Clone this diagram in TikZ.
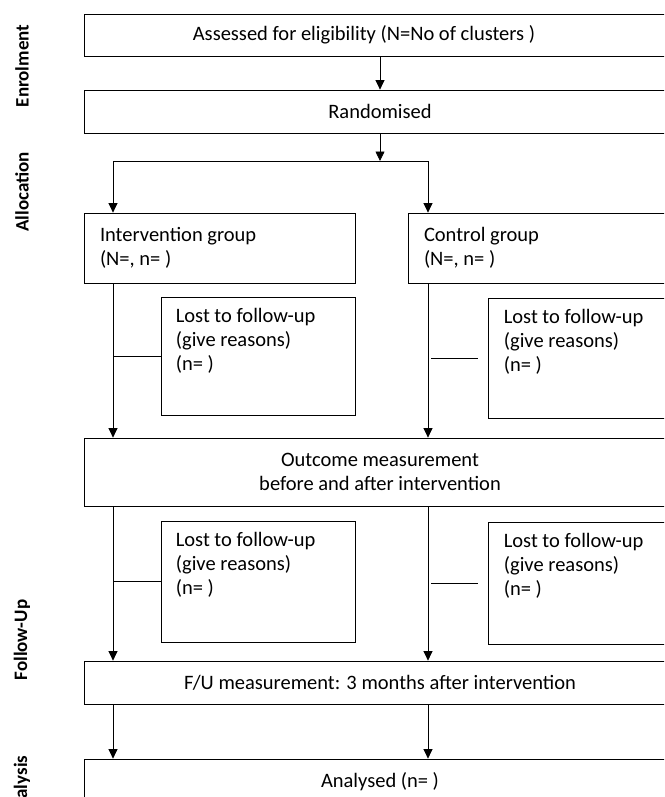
\documentclass[tikz,border=0pt]{standalone}
\usepackage{fontspec}
\setmainfont{Carlito}
\usetikzlibrary{arrows.meta}

\begin{document}
\begin{tikzpicture}[x=1pt,y=-1pt,
	box/.style={draw, line width=0.8pt, inner sep=0pt, font=\fontsize{20.5}{24}\selectfont},
	widebox/.style={box, minimum width=592pt, align=center},
	groupbox/.style={box, minimum width=271pt, minimum height=70pt, text width=239pt, align=flush left},
	lostbox/.style={box, minimum width=194pt},
	losttext/.style={anchor=north west, inner sep=0pt, align=flush left, font=\fontsize{20.5}{24}\selectfont},
	arr/.style={-{Triangle[width=9pt,length=9.5pt]}, line width=0.8pt},
	phase/.style={rotate=90, font=\bfseries\fontsize{19}{22}\selectfont}]
		\useasboundingbox (0,0) rectangle (664,797);
		\clip (0,0) rectangle (664,797);
		\node[phase] (enrol) at (22,66) {Enrolment};
		\node[phase] (alloc) at (22,192) {Allocation};
		\node[phase] (follow) at (22,640) {Follow-Up};
		\node[phase] (analysis) at (22,788) {Analysis};
		\node[widebox, minimum height=42pt] (assess) at (380,35) {Assessed for eligibility (N=No of clusters )\hspace*{32pt}};
		\node[widebox, minimum height=43pt] (rand) at (380,111.5) {Randomised};
		\node[groupbox] (interv) at (219.5,248) {Intervention group\\(N=, n= )};
		\node[groupbox] (ctrl) at (543.5,248) {Control group\\(N=, n= )};
		\node[lostbox, minimum height=118pt] (lostA) at (258,356) {};
		\node[lostbox, minimum height=120pt] (lostB) at (585,358) {};
		\node[widebox, minimum height=68pt] (outcome) at (380,472) {Outcome measurement\\before and after intervention};
		\node[lostbox, minimum height=121pt] (lostC) at (258,581.5) {};
		\node[lostbox, minimum height=122pt] (lostD) at (585,583) {};
		\node[widebox, minimum height=43pt] (fu) at (380,682.5) {F/U measurement: 3 months after intervention};
		\node[widebox, minimum height=46pt] (analysed) at (380,782) {Analysed (n= )};
		\node[losttext] (lostAtxt) at ([shift={(15,11)}]lostA.north west) {Lost to follow-up\\(give reasons)\\(n= )};
		\node[losttext] (lostBtxt) at ([shift={(16,11)}]lostB.north west) {Lost to follow-up\\(give reasons)\\(n= )};
		\node[losttext] (lostCtxt) at ([shift={(15,11)}]lostC.north west) {Lost to follow-up\\(give reasons)\\(n= )};
		\node[losttext] (lostDtxt) at ([shift={(16,11)}]lostD.north west) {Lost to follow-up\\(give reasons)\\(n= )};
		\coordinate (split) at (380,161);
		\coordinate (colA) at (113,161);
		\coordinate (colB) at (428,161);
		\draw[arr] (assess.south) -- (rand.north);
		\draw[arr] (rand.south) -- (split);
		\draw[arr] (colB) -- (colA) -- (colA |- interv.north);
		\draw[arr] (colB) -- (colB |- ctrl.north);
		\draw[arr] (interv.south -| colA) -- (outcome.north -| colA);
		\draw[arr] (ctrl.south -| colB) -- (outcome.north -| colB);
		\draw (colA |- lostA.west) -- (lostA.west);
		\draw ([xshift=3pt]colB |- lostB.west) -- ([xshift=-10pt]lostB.west);
		\draw[arr] (outcome.south -| colA) -- (fu.north -| colA);
		\draw[arr] (outcome.south -| colB) -- (fu.north -| colB);
		\draw (colA |- lostC.west) -- (lostC.west);
		\draw ([xshift=3pt]colB |- lostD.west) -- ([xshift=-10pt]lostD.west);
		\draw[arr] (fu.south -| colA) -- (analysed.north -| colA);
		\draw[arr] (fu.south -| colB) -- (analysed.north -| colB);
	\end{tikzpicture}
\end{document}
